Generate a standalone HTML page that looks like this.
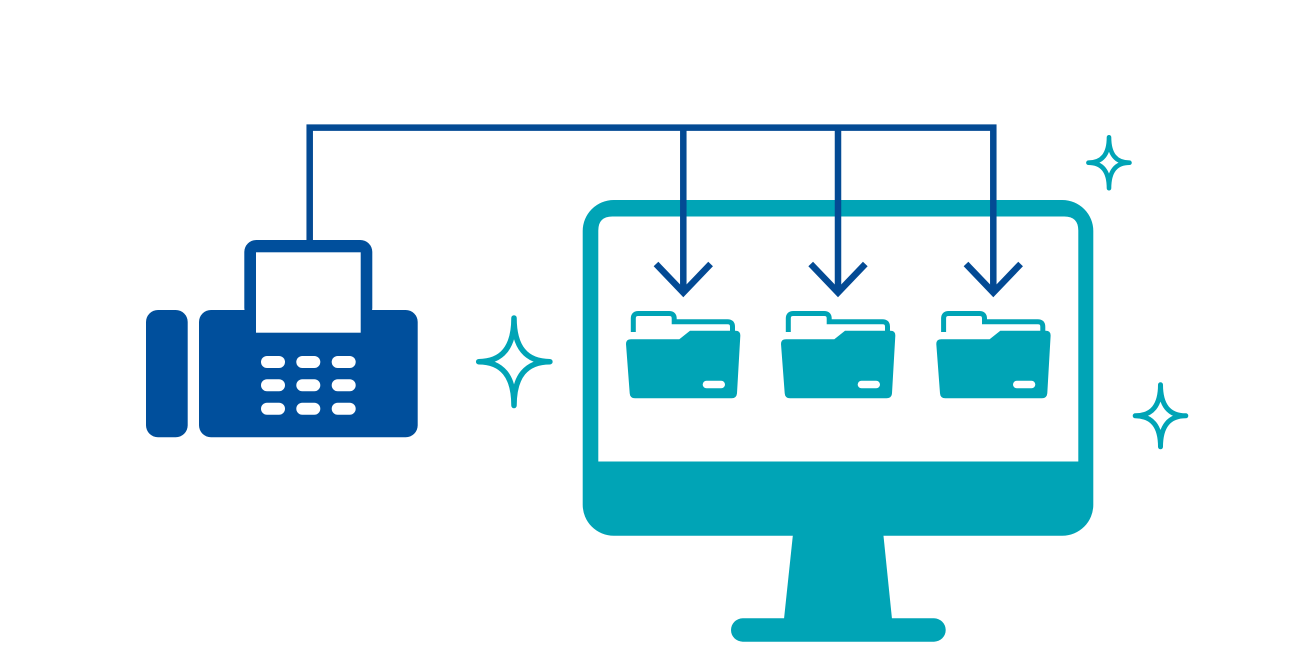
<!DOCTYPE html>
<html><head><meta charset="utf-8"><style>
html,body{margin:0;padding:0;background:#fff;}
svg{display:block;}
</style></head><body>
<svg width="1300" height="650" viewBox="0 0 1300 650" xmlns="http://www.w3.org/2000/svg">
<rect width="1300" height="650" fill="#fff"/>
<!-- Monitor -->
<rect x="582.7" y="200" width="510.6" height="335.7" rx="31" fill="#00a4b6"/>
<path d="M612.3,216.5 H1064.3 Q1078.3,216.5 1078.3,230.5 V461.5 H598.3 V230.5 Q598.3,216.5 612.3,216.5 Z" fill="#fff"/>
<polygon points="793,534 883.3,534 892,619 784,619" fill="#00a4b6"/>
<rect x="731" y="618.3" width="214.7" height="23.4" rx="11.7" fill="#00a4b6"/>
<!-- Folders -->
<g id="f1">
<path d="M633.3,332 V318.5 Q633.3,313.5 638.3,313.5 H669.2 Q674.2,313.5 674.2,318.5 V321.7 H727.5 Q732.5,321.7 732.5,326.7 V331" fill="none" stroke="#00a4b6" stroke-width="5"/>
<path d="M626,344 Q626,339.3 631,339.3 H679.3 L690,330.7 H735.5 Q740.6,330.7 740.3,336 L737,393.3 Q736.6,398.3 731.6,398.3 H635 Q630,398.3 629.7,393.3 Z" fill="#00a4b6"/>
<rect x="702.7" y="380.7" width="22.3" height="7.6" rx="3.8" fill="#fff"/>
</g>
<g transform="translate(155,0)">
<path d="M633.3,332 V318.5 Q633.3,313.5 638.3,313.5 H669.2 Q674.2,313.5 674.2,318.5 V321.7 H727.5 Q732.5,321.7 732.5,326.7 V331" fill="none" stroke="#00a4b6" stroke-width="5"/>
<path d="M626,344 Q626,339.3 631,339.3 H679.3 L690,330.7 H735.5 Q740.6,330.7 740.3,336 L737,393.3 Q736.6,398.3 731.6,398.3 H635 Q630,398.3 629.7,393.3 Z" fill="#00a4b6"/>
<rect x="702.7" y="380.7" width="22.3" height="7.6" rx="3.8" fill="#fff"/>
</g>
<g transform="translate(310.3,0)">
<path d="M633.3,332 V318.5 Q633.3,313.5 638.3,313.5 H669.2 Q674.2,313.5 674.2,318.5 V321.7 H727.5 Q732.5,321.7 732.5,326.7 V331" fill="none" stroke="#00a4b6" stroke-width="5"/>
<path d="M626,344 Q626,339.3 631,339.3 H679.3 L690,330.7 H735.5 Q740.6,330.7 740.3,336 L737,393.3 Q736.6,398.3 731.6,398.3 H635 Q630,398.3 629.7,393.3 Z" fill="#00a4b6"/>
<rect x="702.7" y="380.7" width="22.3" height="7.6" rx="3.8" fill="#fff"/>
</g>
<!-- Connectors -->
<g fill="none" stroke="#034a94" stroke-width="6.5" stroke-linejoin="miter" stroke-linecap="butt">
<path d="M309.7,242 V127.6 H993.3 V291"/>
<path d="M683.3,127.6 V291"/>
<path d="M838,127.6 V291"/>
<polyline points="656,264 683.3,292.5 710.6,264"/>
<polyline points="810.7,264 838,292.5 865.3,264"/>
<polyline points="966,264 993.3,292.5 1020.6,264"/>
</g>
<!-- Fax -->
<g fill="#004f9c">
<rect x="146" y="310" width="41.7" height="127.3" rx="12"/>
<rect x="199" y="310" width="218.7" height="127.3" rx="12"/>
<rect x="244.3" y="240" width="128" height="80" rx="12"/>
</g>
<rect x="256" y="252.3" width="104.7" height="80.4" fill="#fff"/>
<g fill="#fff">
<rect x="261" y="356" width="24" height="12" rx="6"/>
<rect x="296.3" y="356" width="24" height="12" rx="6"/>
<rect x="331.7" y="356" width="24" height="12" rx="6"/>
<rect x="261" y="379.3" width="24" height="12" rx="6"/>
<rect x="296.3" y="379.3" width="24" height="12" rx="6"/>
<rect x="331.7" y="379.3" width="24" height="12" rx="6"/>
<rect x="261" y="402.7" width="24" height="12" rx="6"/>
<rect x="296.3" y="402.7" width="24" height="12" rx="6"/>
<rect x="331.7" y="402.7" width="24" height="12" rx="6"/>
</g>
<!-- Sparkles -->
<g fill="none" stroke="#00a4b6" stroke-linecap="round" stroke-linejoin="round">
<path stroke-width="5.5" d="M514,318 Q514,361.7 549.9,361.7 Q514,361.7 514,405.5 Q514,361.7 478.7,361.7 Q514,361.7 514,318 Z"/>
<path stroke-width="4.6" d="M1109,137.3 Q1109,162.7 1129.5,162.7 Q1109,162.7 1109,188.2 Q1109,162.7 1088.4,162.7 Q1109,162.7 1109,137.3 Z"/>
<path stroke-width="5" d="M1160.5,384.8 Q1160.5,415.8 1185.8,415.8 Q1160.5,415.8 1160.5,446.8 Q1160.5,415.8 1135.2,415.8 Q1160.5,415.8 1160.5,384.8 Z"/>
</g>
</svg>
</body></html>
